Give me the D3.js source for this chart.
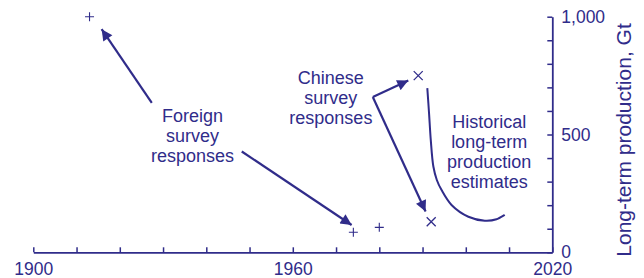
<!DOCTYPE html>
<html>
<head>
<meta charset="utf-8">
<script src="https://cdn.jsdelivr.net/npm/d3@7/dist/d3.min.js"></script>
<style>
  html, body { margin: 0; padding: 0; background: #fff; }
  svg { display: block; font-family: "Liberation Sans", Arial, Helvetica, sans-serif; }
</style>
</head>
<body>
<svg id="chart" width="644" height="278"></svg>
<script>
// ---- data ----
const foreignSurvey = [ // [year, Gt]
  [1913, 1000],
  [1974, 85],
  [1980, 106]
];
const chineseSurvey = [
  [1989, 750],
  [1992, 130]
];
const historicalEstimates = [
  [1991.1, 697], [1991.5, 591], [1991.9, 477], [1992.5, 364], [1993.3, 307],
  [1994.4, 264], [1996.7, 201], [2000.6, 151], [2004.4, 134], [2007.1, 140], [2009.0, 159]
];
const xTickValues = d3.range(1900, 2021, 10);
const xTickLabels = [1900, 1960, 2020];
const yTickValues = d3.range(0, 1001, 100);
const yTickLabels = [0, 500, 1000];
// annotation arrows: [from, to] in data units
const arrows = [
  [[1927.4, 634], [1915.8, 947]],
  [[1948.2, 428], [1973.6, 116]],
  [[1978.5, 659], [1986.7, 729]],
  [[1978.5, 659], [1990.7, 173]]
];
const labels = [
  { lines: ["Foreign", "survey", "responses"], at: [1936.8, 553] },
  { lines: ["Chinese", "survey", "responses"], at: [1968.8, 713] },
  { lines: ["Historical", "long-term", "production", "estimates"], at: [2005.4, 527] }
];

// ---- chart ----
const color = "#302c8a";
const svg = d3.select("#chart");
const x = d3.scaleLinear().domain([1900, 2020]).range([33.3, 552.3]);
const y = d3.scaleLinear().domain([0, 1000]).range([252.3, 16.7]);

svg.append("defs").append("marker")
  .attr("id", "head")
  .attr("viewBox", "0 0 10 10")
  .attr("refX", 10).attr("refY", 5)
  .attr("markerWidth", 6).attr("markerHeight", 5)
  .attr("markerUnits", "strokeWidth")
  .attr("orient", "auto")
  .append("path").attr("d", "M0,0 L10,5 L0,10 Z").attr("fill", color);

// x axis
const xAxis = d3.axisBottom(x)
  .tickValues(xTickValues)
  .tickSizeInner(-5).tickSizeOuter(0).tickPadding(10.5)
  .tickFormat(d => xTickLabels.includes(d) ? String(d) : "");
const gx = svg.append("g").attr("transform", `translate(0,${y(0)})`).call(xAxis);

// y axis
const yAxis = d3.axisRight(y)
  .tickValues(yTickValues)
  .tickSizeInner(-5).tickSizeOuter(0).tickPadding(9)
  .tickFormat(d => yTickLabels.includes(d) ? d3.format(",")(d) : "");
const gy = svg.append("g").attr("transform", `translate(${x(2020)},0)`).call(yAxis);

[gx, gy].forEach(g => {
  g.selectAll("path.domain").attr("stroke", color).attr("stroke-width", 1.8);
  g.selectAll(".tick line").attr("stroke", color).attr("stroke-width", 1.5);
  g.selectAll(".tick text").attr("fill", color).attr("font-size", 17.5)
    .attr("font-family", '"Liberation Sans", Arial, sans-serif');
});

svg.append("text")
  .attr("transform", `translate(631,140) rotate(-90)`)
  .attr("text-anchor", "middle")
  .attr("fill", color).attr("font-size", 21)
  .text("Long-term production, Gt");

// historical curve
svg.append("path")
  .datum(historicalEstimates)
  .attr("fill", "none").attr("stroke", color).attr("stroke-width", 2)
  .attr("d", d3.line().x(d => x(d[0])).y(d => y(d[1])).curve(d3.curveCatmullRom));

// plus markers
svg.selectAll("path.plus").data(foreignSurvey).join("path")
  .attr("class", "plus")
  .attr("transform", d => `translate(${x(d[0])},${y(d[1])})`)
  .attr("d", "M-4.5,0H4.5M0,-4.5V4.5")
  .attr("stroke", color).attr("stroke-width", 1.1).attr("fill", "none");

// cross markers
svg.selectAll("path.cross").data(chineseSurvey).join("path")
  .attr("class", "cross")
  .attr("transform", d => `translate(${x(d[0])},${y(d[1])})`)
  .attr("d", "M-4.5,-4.5L4.5,4.5M-4.5,4.5L4.5,-4.5")
  .attr("stroke", color).attr("stroke-width", 1.3).attr("fill", "none");

// arrows
svg.selectAll("line.arrow").data(arrows).join("line")
  .attr("class", "arrow")
  .attr("x1", d => x(d[0][0])).attr("y1", d => y(d[0][1]))
  .attr("x2", d => x(d[1][0])).attr("y2", d => y(d[1][1]))
  .attr("stroke", color).attr("stroke-width", 2.2)
  .attr("marker-end", "url(#head)");

// annotation labels
labels.forEach(l => {
  const t = svg.append("text")
    .attr("text-anchor", "middle")
    .attr("fill", color).attr("font-size", 18)
    .attr("x", x(l.at[0])).attr("y", y(l.at[1]));
  l.lines.forEach((s, i) => {
    t.append("tspan").attr("x", x(l.at[0])).attr("dy", i === 0 ? 0 : 20).text(s);
  });
});
</script>
</body>
</html>
